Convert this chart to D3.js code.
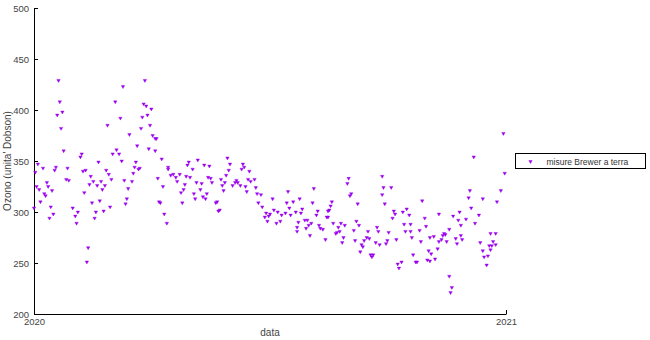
<!DOCTYPE html>
<html lang="it">
<head>
  <meta charset="UTF-8" />
  <title>Ozono 2020</title>
  <style>
    body { margin: 0; background: #fff; }
    svg { display: block; font-family: "Liberation Sans", Arial, sans-serif; }
    .axis path, .axis line { stroke: #000; stroke-width: 1; }
    .axis text { fill: #444; font-size: 9.5px; }
  </style>
</head>
<body>
  <svg id="chart"></svg>

  <script src="https://d3js.org/d3.v7.min.js"></script>
  <script>
    // giorno dell'anno (0 = 1 gennaio 2020) e valore misurato
    const days = [
      0, 1, 2, 3, 4, 5, 7, 8, 9, 10, 11, 12, 13, 14, 15, 16, 17, 18, 19, 20,
      21, 22, 23, 25, 26, 27, 30, 32, 33, 34, 36, 37, 38, 39, 40, 41, 42, 43, 44, 45,
      46, 47, 48, 49, 50, 51, 52, 53, 54, 55, 56, 57, 58, 59, 60, 61, 63, 64, 66, 67,
      68, 69, 70, 71, 72, 73, 74, 76, 77, 78, 79, 80, 81, 82, 83, 84, 85, 86, 87, 88,
      89, 90, 91, 92, 94, 95, 94, 96, 97, 98, 99, 100, 101, 103, 104, 104, 106, 108, 110, 111,
      113, 114, 115, 116, 117, 118, 119, 120, 121, 123, 124, 125, 126, 127, 129, 130, 131, 132, 133, 134,
      135, 136, 137, 138, 141, 142, 143, 144, 145, 146, 147, 148, 149, 150, 151, 152, 154, 156, 157, 158,
      160, 161, 162, 163, 164, 165, 166, 167, 168, 171, 172, 173, 174, 176, 177, 179, 180, 181, 182, 183,
      185, 186, 188, 189, 191, 192, 195, 196, 197, 198, 199, 201, 203, 204, 204, 205, 206, 207, 208, 210,
      211, 212, 213, 214, 215, 216, 217, 219, 220, 221, 222, 224, 226, 227, 228, 228, 229, 230, 231, 232,
      234, 235, 236, 237, 238, 239, 240, 241, 243, 244, 245, 246, 248, 249, 250, 251, 252, 253, 254, 255,
      256, 258, 259, 260, 261, 262, 263, 265, 266, 267, 268, 270, 270, 271, 272, 273, 274, 275, 277, 278,
      279, 280, 281, 282, 283, 285, 286, 287, 288, 289, 291, 292, 292, 293, 294, 296, 297, 299, 300, 301,
      303, 304, 305, 306, 307, 307, 308, 310, 311, 313, 314, 314, 316, 317, 318, 319, 320, 322, 322, 323,
      324, 325, 327, 328, 329, 330, 331, 331, 332, 335, 337, 338, 339, 341, 342, 345, 346, 348, 348, 349,
      351, 352, 353, 354, 354, 355, 356, 358, 358, 359, 362, 364, 365
    ];
    const ozone = [
      304, 339, 325, 347, 322, 310, 343, 318, 316, 329, 325, 294, 305, 321, 298, 341, 344, 395, 429, 408,
      382, 398, 360, 332, 343, 331, 304, 296, 289, 300, 354, 357, 340, 319, 341, 251, 265, 327, 335, 309,
      330, 294, 300, 326, 349, 311, 330, 322, 301, 326, 341, 385, 337, 305, 332, 357, 408, 361, 357, 392,
      350, 423, 331, 308, 313, 323, 376, 330, 338, 344, 349, 365, 342, 343, 382, 393, 406, 429, 404, 395,
      362, 385, 401, 375, 372, 372, 360, 333, 310, 309, 352, 325, 298, 289, 344, 342, 336, 337, 334, 330,
      337, 319, 309, 322, 327, 335, 346, 349, 334, 342, 318, 313, 329, 351, 322, 328, 315, 346, 313, 318,
      334, 345, 333, 329, 309, 310, 301, 302, 332, 326, 321, 329, 336, 353, 341, 347, 326, 329, 331, 329,
      326, 342, 347, 344, 325, 320, 332, 340, 330, 332, 324, 318, 309, 317, 305, 295, 299, 291, 296, 298,
      313, 302, 289, 300, 291, 297, 299, 309, 320, 304, 297, 310, 300, 281, 285, 290, 313, 299, 303, 292,
      284, 292, 287, 277, 289, 309, 323, 297, 301, 287, 284, 283, 273, 295, 301, 295, 302, 306, 310, 289,
      279, 280, 285, 281, 289, 270, 275, 287, 328, 333, 316, 318, 282, 272, 291, 308, 287, 261, 268, 266,
      272, 275, 281, 274, 258, 256, 258, 270, 285, 281, 268, 335, 317, 324, 308, 269, 272, 280, 324, 294,
      301, 298, 273, 249, 245, 251, 300, 288, 281, 303, 297, 288, 281, 275, 258, 251, 251, 282, 271, 311,
      294, 286, 253, 262, 275, 252, 259, 276, 254, 264, 298, 271, 273, 277, 279, 278, 271, 283, 237, 221,
      226, 296, 274, 269, 292, 300, 287, 277, 273, 293, 314, 321, 304, 354, 289, 297, 270, 313, 262, 256,
      248, 257, 267, 279, 263, 267, 271, 268, 279, 310, 321, 377, 338
    ];
    const yTicks = [200, 250, 300, 350, 400, 450, 500];
    const seriesName = "misure Brewer a terra";

    const W = 650, H = 340;
    const mLeft = 34, mRight = 506, mTop = 8, mBottom = 314;
    const purple = "#9900ee";

    const svg = d3.select("#chart").attr("width", W).attr("height", H);

    const start = new Date(Date.UTC(2020, 0, 1));
    const end = new Date(Date.UTC(2021, 0, 1));
    const x = d3.scaleUtc().domain([start, end]).range([mLeft, mRight]);
    const y = d3.scaleLinear().domain([200, 500]).range([mBottom, mTop]);

    const data = days.map((d, i) => ({
      date: d3.utcDay.offset(start, d),
      value: ozone[i]
    }));

    // assi
    svg.append("g")
      .attr("class", "axis")
      .attr("transform", `translate(${mLeft},0)`)
      .call(d3.axisLeft(y).tickValues(yTicks).tickSizeInner(-4).tickSizeOuter(0).tickPadding(5));

    svg.append("g")
      .attr("class", "axis")
      .attr("transform", `translate(0,${mBottom})`)
      .call(d3.axisBottom(x).tickValues([start, end]).tickFormat(d3.utcFormat("%Y"))
        .tickSizeInner(-4).tickSizeOuter(0).tickPadding(4));

    svg.selectAll(".axis .domain").attr("fill", "none");

    // etichette
    svg.append("text")
      .attr("x", (mLeft + mRight) / 2)
      .attr("y", 336)
      .attr("text-anchor", "middle")
      .attr("fill", "#444")
      .style("font-size", "10px")
      .text("data");

    svg.append("text")
      .attr("transform", `translate(11,${(mTop + mBottom) / 2}) rotate(-90)`)
      .attr("text-anchor", "middle")
      .attr("fill", "#444")
      .style("font-size", "10px")
      .text("Ozono (unita' Dobson)");

    // punti
    const marker = d3.symbol().type(d3.symbolTriangle).size(5);

    svg.append("g")
      .selectAll("path")
      .data(data)
      .join("path")
      .attr("d", marker)
      .attr("transform", d => `translate(${x(d.date)},${y(d.value)}) rotate(180)`)
      .attr("fill", purple)
      .attr("stroke", purple)
      .attr("stroke-width", 0.4);

    // legenda
    const leg = svg.append("g").attr("transform", "translate(515.5,153.5)");
    leg.append("rect")
      .attr("width", 130)
      .attr("height", 15)
      .attr("fill", "#fff")
      .attr("stroke", "#000");
    leg.append("path")
      .attr("d", marker)
      .attr("transform", "translate(15,8) rotate(180)")
      .attr("fill", purple)
      .attr("stroke", purple)
      .attr("stroke-width", 0.4);
    leg.append("text")
      .attr("x", 31)
      .attr("y", 11)
      .attr("fill", "#333")
      .style("font-size", "8.5px")
      .text(seriesName);
  </script>
</body>
</html>
